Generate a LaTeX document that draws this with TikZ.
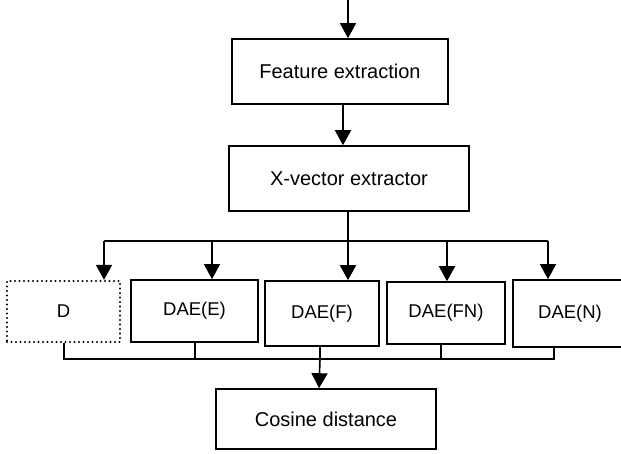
\documentclass[tikz,border=0pt]{standalone}
\usepackage{fontspec}
\setmainfont{Liberation Sans}
\usetikzlibrary{arrows.meta}
\begin{document}
\begin{tikzpicture}[x=1pt,y=-1pt,
  box/.style={draw, line width=1.6pt, inner sep=0pt, font=\fontsize{20}{24}\selectfont},
  dbox/.style={draw, line width=2.2pt, line cap=round, dash pattern=on 0pt off 4.5pt, inner sep=0pt, font=\fontsize{18.5}{22}\selectfont},
  sbox/.style={box, font=\fontsize{18.5}{22}\selectfont},
  wire/.style={line width=1.6pt},
  arr/.style={wire, -{Triangle[width=16pt,length=15pt]}}]
\useasboundingbox (0,0) rectangle (621,454);
\clip (0,0) rectangle (621,454);
\fill[white] (0,0) rectangle (621,454);
% boxes
\node[box, minimum width=216pt, minimum height=65pt] (feat) at (340,71.5) {Feature extraction};
\node[box, minimum width=240pt, minimum height=65pt] (xv) at (349,178.5) {X-vector extractor};
\node[dbox, minimum width=113pt, minimum height=61pt] (d) at (63.5,311.5) {D};
\node[sbox, minimum width=127pt, minimum height=62pt] (dae1) at (194.5,311) {DAE(E)};
\node[sbox, minimum width=114pt, minimum height=65pt] (dae2) at (322,313.5) {DAE(F)};
\node[sbox, minimum width=118pt, minimum height=62pt] (dae3) at (446,313) {DAE(FN)};
\node[sbox, minimum width=114pt, minimum height=67pt] (dae4) at (570,313.5) {DAE(N)};
\node[box, minimum width=220pt, minimum height=60pt] (cos) at (326,419) {Cosine distance};
% coordinates
\coordinate (topin) at (348,0);
\coordinate (ta1) at (104,241);
\coordinate (ta2) at (212,241);
\coordinate (ta3) at (348,241);
\coordinate (ta4) at (447,241);
\coordinate (ta5) at (548,241);
\coordinate (bb1) at (64,359);
\coordinate (bb2) at (195,359);
\coordinate (bb3) at (320,359);
\coordinate (bb4) at (441,359);
\coordinate (bb5) at (554,359);
% connectors
\draw[arr] (topin) -- (topin |- feat.north);
\draw[arr] ([xshift=3pt]feat.south) -- ([xshift=3pt]feat.south |- xv.north);
\draw[wire] (ta1) -- (ta5);
\draw[arr] (xv.south -| ta3) -- (ta3 |- dae2.north);
\draw[arr] (ta1) -- (ta1 |- d.north);
\draw[arr] (ta2) -- (ta2 |- dae1.north);
\draw[arr] (ta4) -- (ta4 |- dae3.north);
\draw[arr] (ta5) -- (ta5 |- dae4.north);
% bottom bus
\draw[wire] (bb1 |- d.south) -- (bb1) -- (bb5) -- (bb5 |- dae4.south);
\draw[wire] (bb2 |- dae1.south) -- (bb2);
\draw[wire] (bb4 |- dae3.south) -- (bb4);
\draw[arr] (bb3 |- dae2.south) -- (bb3) -- ([xshift=-1pt]bb3 |- cos.north);
\end{tikzpicture}
\end{document}
